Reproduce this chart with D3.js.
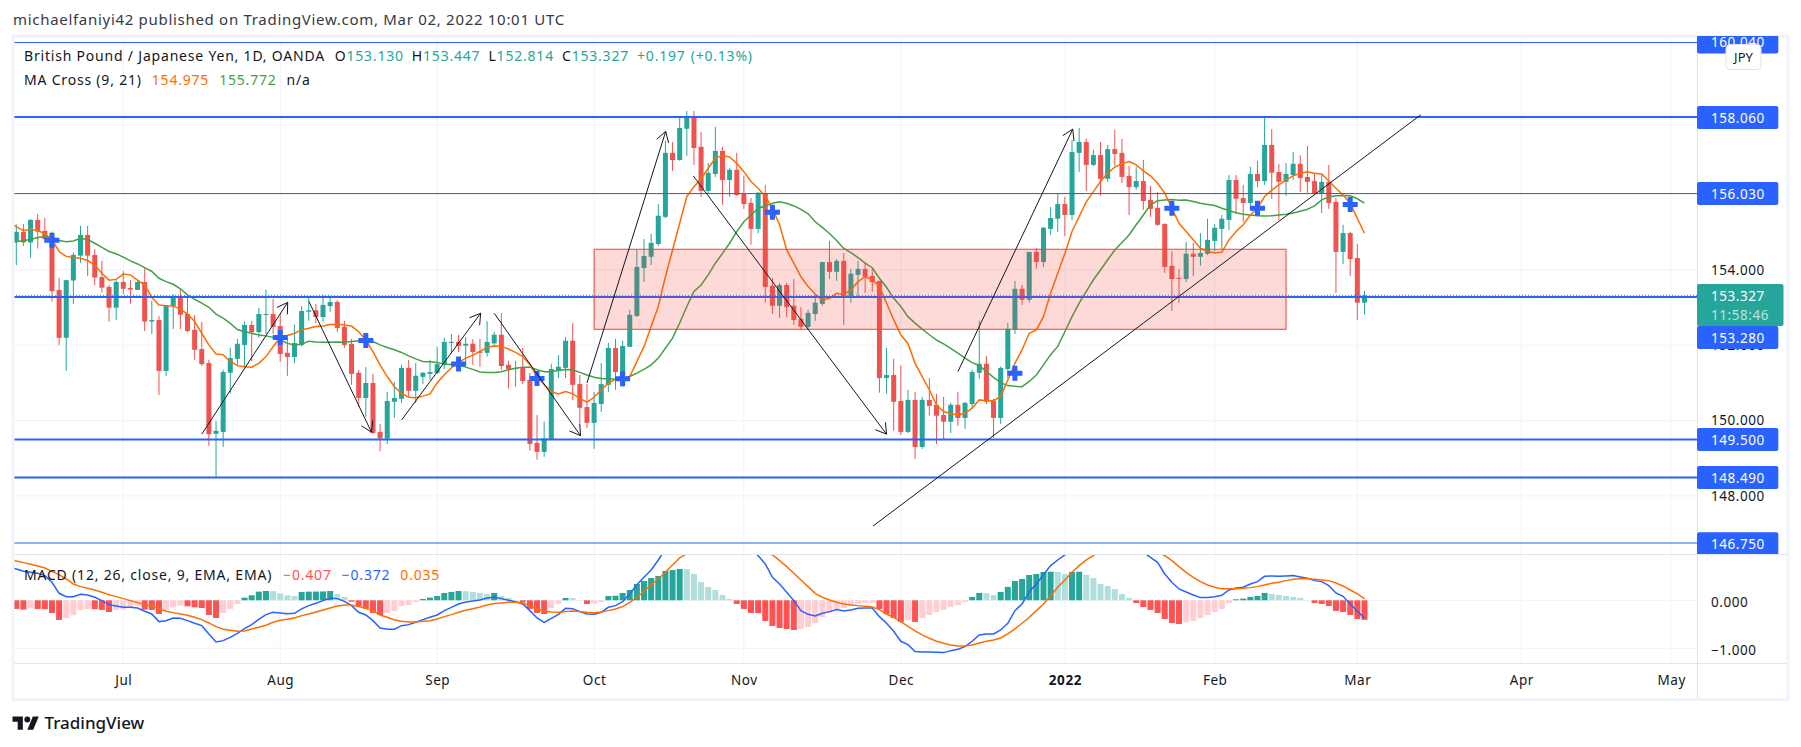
<!DOCTYPE html>
<html>
<head>
<meta charset="utf-8">
<script src="https://cdn.jsdelivr.net/npm/d3@7"></script>
<style>
    html, body { margin: 0; padding: 0; background: #fff; overflow: hidden; }
    text { font-family: "Noto Sans", sans-serif; fill: #131722; }
    .pane text { font-size: 13.5px; letter-spacing: 0.55px; }
</style>
</head>
<body>
<svg id="chart" width="1801" height="747"></svg>
<script>
// daily bars, 10 Jun 2021 .. 2 Mar 2022 (weekdays)
const opens = [154.75,155.01,154.73,155.33,155.04,154.86,153.47,152.20,153.72,154.38,
154.93,154.40,153.81,153.55,153.00,153.68,153.52,153.47,153.68,152.63,
152.67,151.32,153.04,153.27,152.83,152.41,151.90,151.53,149.65,149.70,
151.27,151.64,152.01,152.54,152.35,152.81,152.83,152.51,151.80,151.69,
152.01,152.89,152.93,152.75,153.04,153.15,152.49,152.04,151.27,150.60,
151.00,149.70,149.52,150.50,150.58,151.40,150.79,151.16,151.24,151.27,
151.48,152.06,152.09,151.99,152.04,151.84,151.80,152.05,152.28,151.48,
151.37,151.40,151.08,149.41,149.17,149.51,151.32,151.40,152.12,150.97,
150.36,149.94,150.44,150.95,151.93,151.21,151.96,152.78,154.05,154.35,
154.69,155.41,157.11,156.92,157.75,158.06,157.27,156.10,156.55,157.16,
156.39,156.66,156.04,155.78,155.09,156.04,153.58,153.05,153.60,153.05,
152.70,152.49,152.83,153.10,154.21,153.95,154.24,153.28,153.87,154.03,
153.84,153.71,151.13,151.21,150.52,149.70,150.55,149.30,150.55,150.42,
150.15,149.97,150.42,150.07,150.44,151.27,151.51,150.52,150.07,151.37,
152.41,153.50,153.21,154.48,154.21,155.09,155.36,155.75,155.46,157.11,
157.40,156.79,157.05,156.42,157.21,157.11,156.50,156.20,156.36,155.86,
155.65,155.22,154.11,153.79,153.76,154.43,154.35,154.43,154.77,155.09,
155.33,156.39,155.91,155.78,156.55,156.36,157.32,156.60,156.34,156.52,
156.82,156.47,156.36,156.02,156.34,155.81,154.48,154.98,154.32,153.13];

const highs = [155.21,155.22,155.35,155.49,155.38,155.02,153.79,153.73,154.47,155.17,
155.17,154.55,154.24,153.60,153.73,153.97,153.73,153.73,154.07,153.18,
152.78,153.07,153.36,153.49,153.31,152.80,152.62,151.61,149.99,151.35,
151.93,152.17,152.63,152.65,152.99,153.47,153.23,152.83,152.20,152.54,
153.04,153.29,153.10,153.34,153.31,153.20,152.65,152.17,151.35,151.42,
151.24,149.91,150.76,151.03,151.48,151.61,151.53,151.29,151.61,151.96,
152.20,152.30,152.28,152.22,152.16,152.17,152.64,152.35,152.85,151.59,
151.59,151.93,151.26,150.15,149.97,151.51,151.74,152.22,152.59,151.21,
150.97,150.76,151.53,152.06,152.17,152.12,152.94,154.53,154.82,154.96,
155.75,157.43,157.40,158.06,158.22,158.22,157.67,156.84,157.80,157.27,
156.71,157.11,156.50,155.91,156.07,156.26,153.79,153.66,153.66,153.76,
153.01,152.94,153.36,154.21,154.77,154.29,154.45,154.03,154.24,154.19,
154.05,153.71,151.93,151.64,151.46,150.82,150.76,150.63,151.13,150.71,
150.63,150.48,150.76,150.50,151.35,152.65,151.72,150.58,151.44,152.59,
153.71,153.60,154.48,154.59,155.14,155.67,156.02,155.94,157.45,157.77,
157.48,157.19,157.40,157.32,157.72,157.48,156.76,156.74,156.92,156.23,
156.07,155.24,154.50,154.03,154.74,154.72,154.98,155.36,155.22,155.46,
156.52,156.52,156.26,156.74,156.90,158.09,157.74,156.82,156.84,157.13,
157.05,157.29,156.55,156.52,156.79,155.91,155.20,155.01,154.69,153.447];

const lows = [154.13,154.64,154.32,154.57,154.73,153.16,152.01,151.32,153.10,154.19,
153.84,153.60,153.40,152.63,152.67,153.36,153.10,153.47,152.38,152.30,
150.68,151.19,152.43,152.43,152.35,151.61,151.45,149.33,148.50,149.30,
150.73,151.48,151.43,151.58,152.20,152.30,152.30,151.56,151.19,151.53,
151.97,152.65,152.58,152.62,152.89,152.35,151.93,150.95,150.36,150.10,
149.65,149.19,149.38,150.07,150.47,150.61,150.47,150.97,151.08,151.24,
151.37,151.79,151.82,151.48,151.48,151.43,151.70,151.97,151.35,150.85,
150.90,150.97,149.20,148.96,149.04,149.49,151.13,151.13,150.55,149.93,
149.81,149.25,150.23,150.76,150.82,150.90,151.96,152.75,153.68,154.13,
154.64,155.38,156.63,156.90,157.03,156.79,155.94,156.02,156.47,155.73,
155.94,155.97,155.62,154.67,154.98,153.13,152.83,152.73,152.75,152.54,
152.41,152.41,152.65,153.05,153.76,153.71,152.54,153.13,153.31,153.39,
153.42,150.74,150.71,149.73,149.62,149.67,148.98,149.25,150.13,149.38,
149.49,149.67,149.86,149.78,150.31,151.11,150.44,149.54,149.91,151.12,
152.30,153.07,153.13,154.03,154.08,154.93,155.01,154.90,155.33,156.60,
156.10,156.76,155.97,156.34,156.76,156.31,155.46,156.13,155.59,155.41,
155.17,153.92,152.91,153.13,153.68,153.84,154.11,154.40,154.50,154.53,
155.06,155.49,155.28,155.59,156.20,156.26,155.89,155.33,155.97,156.39,
156.07,156.05,156.02,155.51,155.62,153.39,154.16,153.84,152.67,152.814];

const closes = [155.01,154.73,155.33,155.02,154.82,153.44,152.20,153.73,154.40,154.93,
154.38,153.80,153.53,153.00,153.68,153.50,153.48,153.68,152.63,152.67,
151.32,153.07,153.29,152.81,152.38,151.88,151.50,149.64,149.73,151.29,
151.66,152.04,152.54,152.35,152.83,152.83,152.49,151.77,151.69,152.06,
152.91,152.93,152.75,153.07,153.15,152.46,152.01,151.24,150.60,151.00,
149.67,149.53,150.52,150.60,151.40,150.79,151.19,151.27,151.29,151.50,
152.09,152.09,151.98,152.04,151.82,151.80,152.09,152.28,151.45,151.37,
151.40,151.05,149.38,149.17,149.53,151.37,151.43,152.12,150.95,150.34,
149.94,150.47,150.97,151.93,151.29,151.98,152.81,154.08,154.37,154.72,
155.44,157.11,156.92,157.77,158.06,157.24,156.10,156.58,157.16,156.39,
156.66,155.99,155.75,155.09,156.05,153.55,153.05,153.60,153.02,152.67,
152.49,152.86,153.13,154.21,153.95,154.24,153.28,153.90,154.03,153.82,
153.68,151.13,151.21,150.50,149.70,150.55,149.30,150.55,150.39,150.13,
149.97,150.42,150.07,150.47,151.29,151.51,150.50,150.07,151.40,152.44,
153.50,153.21,154.48,154.21,155.12,155.38,155.75,155.46,157.13,157.40,
156.79,157.05,156.42,157.21,157.08,156.47,156.20,156.36,155.83,155.62,
155.20,154.08,153.76,153.76,154.43,154.35,154.45,154.80,155.12,155.36,
156.39,155.89,155.78,156.55,156.36,157.32,156.58,156.34,156.55,156.82,
156.44,156.34,156.02,156.34,155.78,154.48,154.98,154.29,153.13,153.327];

// moving averages, first value belongs to the bar before the first candle
const ma9 = [155.26,155.15,155.04,155.08,155.04,154.97,154.80,154.49,154.36,154.33,154.31,
154.25,154.13,153.91,153.73,153.75,153.89,153.87,153.73,153.60,153.27,
153.07,153.05,153.04,152.96,152.83,152.63,152.32,152.01,151.77,151.75,
151.57,151.46,151.43,151.42,151.52,151.70,151.96,152.21,152.26,152.32,
152.41,152.45,152.50,152.51,152.55,152.56,152.54,152.51,152.36,152.14,
151.83,151.48,151.17,150.90,150.72,150.62,150.61,150.65,150.71,151.00,
151.22,151.40,151.54,151.66,151.74,151.83,151.95,151.98,151.97,151.90,
151.81,151.70,151.48,151.17,150.95,150.77,150.71,150.77,150.71,150.59,
150.49,150.62,150.82,150.99,151.10,151.10,151.17,151.57,151.97,152.50,
153.03,153.82,154.53,155.24,155.95,156.21,156.43,156.70,156.97,157.04,
157.00,156.83,156.61,156.35,156.17,155.95,155.64,155.20,154.53,154.18,
153.82,153.56,153.36,153.20,153.25,153.38,153.34,153.47,153.69,153.82,
153.74,153.56,153.12,152.68,152.28,152.05,151.52,151.17,150.82,150.42,
150.24,150.18,150.15,150.20,150.33,150.55,150.53,150.53,150.64,151.08,
151.52,151.88,152.32,152.41,152.76,153.38,153.91,154.44,155.02,155.42,
155.81,156.08,156.35,156.57,156.73,156.82,156.88,156.79,156.63,156.50,
156.30,156.04,155.64,155.24,155.02,154.80,154.58,154.49,154.46,154.47,
154.80,155.02,155.20,155.46,155.64,155.95,156.12,156.26,156.39,156.50,
156.57,156.61,156.57,156.55,156.36,156.17,155.99,155.77,155.37,154.975];

const ma21 = [154.76,154.75,154.78,154.81,154.86,154.89,154.86,154.78,154.75,154.77,154.84,
154.81,154.71,154.60,154.49,154.43,154.34,154.24,154.16,154.06,153.96,
153.78,153.69,153.62,153.50,153.34,153.22,153.12,153.01,152.83,152.72,
152.58,152.42,152.36,152.32,152.27,152.25,152.21,152.14,152.05,152.01,
152.03,152.11,152.09,152.08,152.08,152.09,152.08,152.10,152.12,152.14,
152.10,152.01,151.94,151.88,151.81,151.72,151.64,151.57,151.56,151.54,
151.50,151.49,151.48,151.42,151.36,151.29,151.28,151.28,151.30,151.35,
151.39,151.42,151.42,151.35,151.30,151.30,151.33,151.36,151.35,151.28,
151.21,151.15,151.12,151.11,151.10,151.12,151.17,151.26,151.36,151.48,
151.66,151.92,152.19,152.59,153.03,153.43,153.60,153.87,154.18,154.44,
154.71,155.02,155.28,155.46,155.64,155.70,155.77,155.81,155.77,155.70,
155.61,155.49,155.28,155.13,154.97,154.78,154.57,154.46,154.33,154.18,
154.06,153.78,153.54,153.25,153.03,152.76,152.59,152.43,152.28,152.14,
152.04,151.92,151.79,151.66,151.54,151.46,151.30,151.15,151.01,150.93,
150.91,150.90,151.04,151.21,151.48,151.75,151.97,152.36,152.76,153.12,
153.43,153.74,154.00,154.27,154.53,154.73,154.93,155.20,155.46,155.73,
155.84,155.86,155.87,155.85,155.86,155.82,155.77,155.74,155.71,155.64,
155.58,155.52,155.48,155.46,155.44,155.43,155.44,155.46,155.48,155.51,
155.56,155.61,155.70,155.86,155.94,155.97,155.98,155.97,155.89,155.772];

// MACD pane, same idea: macdLine and signalLine start one bar early
const histogram = [-.18,-.194,-.16,-.18,-.185,-.264,-.41,-.368,-.313,-.20,
-.18,-.185,-.20,-.243,-.20,-.194,-.16,-.125,-.194,-.20,
-.285,-.20,-.146,-.11,-.125,-.146,-.16,-.305,-.368,-.264,
-.18,-.076,.055,.104,.18,.194,.19,.146,.104,.09,
.174,.18,.182,.185,.194,.132,.07,-.03,-.132,-.167,
-.264,-.305,-.264,-.222,-.118,-.097,-.035,.028,.056,.09,
.153,.174,.194,.19,.174,.153,.132,.153,.09,.049,
.007,-.042,-.18,-.264,-.285,-.16,-.076,.049,.045,.007,
-.076,-.072,-.035,.09,.095,.153,.215,.34,.403,.465,
.507,.611,.632,.653,.65,.549,.382,.278,.215,.111,
.028,-.076,-.18,-.264,-.268,-.43,-.535,-.576,-.597,-.618,
-.597,-.556,-.472,-.347,-.264,-.18,-.16,-.118,-.076,-.056,
-.054,-.18,-.285,-.368,-.451,-.41,-.451,-.368,-.305,-.243,
-.20,-.139,-.097,-.035,.07,.153,.15,.111,.174,.278,
.403,.444,.528,.549,.59,.595,.59,.549,.59,.595,
.528,.465,.34,.299,.236,.132,.049,-.056,-.139,-.20,
-.264,-.389,-.472,-.493,-.458,-.43,-.368,-.305,-.243,-.18,
-.056,.021,.035,.07,.09,.153,.132,.111,.09,.07,
.049,.007,-.056,-.076,-.118,-.222,-.243,-.305,-.389,-.407];

const macdLine = [.68,.653,.604,.583,.563,.514,.375,.146,.076,.076,.125,
.111,.063,-.007,-.09,-.118,-.146,-.146,-.16,-.229,-.285,
-.444,-.424,-.368,-.375,-.424,-.479,-.528,-.701,-.868,-.84,
-.771,-.688,-.59,-.507,-.396,-.299,-.25,-.264,-.278,-.271,
-.18,-.111,-.063,-.007,.049,.035,-.021,-.111,-.25,-.306,
-.424,-.576,-.604,-.604,-.528,-.507,-.458,-.403,-.354,-.306,
-.215,-.146,-.076,-.035,-.014,.007,.049,.063,.035,0,
-.028,-.076,-.215,-.368,-.458,-.375,-.292,-.167,-.174,-.236,
-.285,-.292,-.25,-.146,-.111,-.028,.132,.326,.479,.632,
.84,1.07,1.3,1.55,1.75,1.85,1.9,1.92,1.9,1.8,
1.65,1.48,1.3,1.1,.93,.757,.479,.34,.167,-.007,
-.215,-.292,-.326,-.271,-.236,-.194,-.222,-.201,-.167,-.16,
-.16,-.34,-.479,-.646,-.854,-.924,-1.069,-1.076,-1.076,-1.083,
-1.09,-1.049,-1.021,-.965,-.854,-.722,-.701,-.701,-.618,-.479,
-.215,-.076,.18,.34,.535,.722,.84,.944,1.15,1.35,
1.55,1.7,1.8,1.8,1.7,1.5,1.3,1.15,1.0,.896,
.792,.549,.375,.236,.174,.111,.056,.056,.076,.104,
.215,.257,.271,.34,.389,.5,.507,.5,.507,.514,
.486,.458,.41,.389,.306,.153,.083,-.076,-.229,-.372];

const signalLine = [.84,.819,.785,.75,.715,.674,.604,.535,.444,.34,.285,
.25,.215,.167,.118,.076,.035,-.007,-.049,-.09,-.125,
-.174,-.229,-.257,-.285,-.313,-.354,-.403,-.472,-.549,-.604,
-.625,-.646,-.639,-.597,-.563,-.521,-.458,-.417,-.396,-.368,
-.319,-.285,-.243,-.201,-.16,-.118,-.097,-.097,-.132,-.167,
-.215,-.306,-.354,-.41,-.438,-.451,-.451,-.438,-.424,-.389,
-.34,-.299,-.25,-.208,-.174,-.139,-.097,-.069,-.056,-.042,
-.042,-.056,-.111,-.181,-.229,-.243,-.25,-.236,-.222,-.236,
-.25,-.257,-.243,-.215,-.181,-.132,-.042,.063,.188,.326,
.444,.583,.736,.882,.97,1.13,1.32,1.47,1.58,1.67,
1.7,1.66,1.52,1.3,1.12,.99,.951,.826,.701,.563,
.424,.285,.146,.063,.007,-.042,-.076,-.097,-.111,-.125,
-.139,-.194,-.285,-.354,-.444,-.542,-.639,-.722,-.792,-.854,
-.896,-.931,-.951,-.951,-.931,-.889,-.854,-.826,-.785,-.701,
-.597,-.479,-.354,-.215,-.076,.097,.271,.424,.583,.722,
.84,.931,1.08,1.2,1.3,1.36,1.34,1.27,1.15,1.06,
1.0,.931,.826,.701,.583,.479,.389,.319,.271,.243,
.243,.243,.25,.264,.285,.319,.354,.375,.41,.438,
.451,.451,.438,.424,.41,.361,.299,.215,.132,.035];

// month ticks as bar numbers (weekdays only)
const monthBars = [15, 37, 59, 81, 102, 124, 147, 168, 188, 211, 232];
const monthLabels = ["Jul", "Aug", "Sep", "Oct", "Nov", "Dec", "2022", "Feb", "Mar", "Apr", "May"];

const priceTicks = [148, 150, 152, 154, 156, 158, 160];
const macdTicks = [0, -1];

// horizontal lines on the chart and how thick they were drawn
const levelPrices = [160.04, 158.06, 156.03, 153.28, 149.5, 148.49, 146.75];
const levelWeights = [1, 2, 1, 2, 2, 2, 1];

// MA cross markers
const crossBars = [5, 37, 49, 62, 73, 85, 106, 140, 162, 174, 187];
const crossPrices = [154.79, 152.21, 152.13, 151.50, 151.12, 151.11, 155.53, 151.26, 155.64, 155.64, 155.74];

// hand drawn arrows: [bar, price, bar, price]
const arrows = [
    [26, 149.64, 38.05, 153.14],
    [41.03, 153.16, 49.8, 149.69],
    [54.03, 150.02, 65.1, 152.85],
    [67, 152.85, 79.1, 149.6],
    [80, 151.0, 91.04, 157.68],
    [94.9, 156.5, 122, 149.64],
    [132, 151.3, 148.1, 157.74]
];
const trendLine = [120.1, 147.2, 196.9, 158.12];
const zone = [81, 154.55, 178, 152.425];

const upColor = "#26a69a", downColor = "#ef5350", blue = "#2962ff";
const maFastColor = "#ff6d00", maSlowColor = "#43a047";

const svg = d3.select("#chart");
const paneLeft = 13, paneRight = 1697, mainTop = 36, mainBottom = 554, macdBottom = 663;

const x = d3.scaleLinear().domain([0, 232]).range([16.3, 1671.2]);
const y = d3.scaleLinear().domain([146.75, 160.04]).range([543, 42.5]);
const yMacd = d3.scaleLinear().domain([-1, 0]).range([648.3, 600.3]);

const defs = svg.append("defs");
defs.append("clipPath").attr("id", "mainClip").append("rect")
    .attr("x", paneLeft).attr("y", mainTop).attr("width", paneRight - paneLeft).attr("height", mainBottom - mainTop);
defs.append("clipPath").attr("id", "macdClip").append("rect")
    .attr("x", paneLeft).attr("y", mainBottom).attr("width", paneRight - paneLeft).attr("height", macdBottom - mainBottom);
defs.append("clipPath").attr("id", "tagClip").append("rect")
    .attr("x", paneRight).attr("y", mainTop).attr("width", 100).attr("height", mainBottom - mainTop);

// published line
svg.append("text").attr("x", 13).attr("y", 25)
    .style("font-size", "15px").style("letter-spacing", "0.7px").style("fill", "#363a45")
    .text("michaelfaniyi42 published on TradingView.com, Mar 02, 2022 10:01 UTC");

// grid
const grid = svg.append("g").attr("stroke", "#f0f3fa").attr("stroke-width", 1);
grid.selectAll(".v").data(monthBars).enter().append("line")
    .attr("x1", d => x(d)).attr("x2", d => x(d)).attr("y1", mainTop).attr("y2", macdBottom);
grid.selectAll(".h").data(priceTicks).enter().append("line")
    .attr("x1", paneLeft).attr("x2", paneRight).attr("y1", d => y(d)).attr("y2", d => y(d));
grid.selectAll(".m").data(macdTicks).enter().append("line")
    .attr("x1", paneLeft).attr("x2", paneRight).attr("y1", d => yMacd(d)).attr("y2", d => yMacd(d));

// candles
const main = svg.append("g").attr("clip-path", "url(#mainClip)");
const bars = d3.range(closes.length);
const candleColor = i => closes[i] >= opens[i] ? upColor : downColor;

main.append("g").selectAll("line").data(bars).enter().append("line")
    .attr("x1", i => x(i)).attr("x2", i => x(i))
    .attr("y1", i => y(highs[i])).attr("y2", i => y(lows[i]))
    .attr("stroke", candleColor).attr("stroke-width", 1);

main.append("g").selectAll("rect").data(bars).enter().append("rect")
    .attr("x", i => x(i) - 2.5).attr("width", 5)
    .attr("y", i => y(Math.max(opens[i], closes[i])))
    .attr("height", i => Math.max(1, Math.abs(y(opens[i]) - y(closes[i]))))
    .attr("fill", candleColor);

// moving averages
function lineFrom(values, scale) {
    return d3.line().x((d, i) => x(i - 1)).y(d => scale(d))(values);
}
main.append("path").attr("d", lineFrom(ma21, y)).attr("fill", "none")
    .attr("stroke", maSlowColor).attr("stroke-width", 1.5);
main.append("path").attr("d", lineFrom(ma9, y)).attr("fill", "none")
    .attr("stroke", maFastColor).attr("stroke-width", 1.5);

// cross markers
main.append("g").selectAll("path").data(crossBars).enter().append("path")
    .attr("d", d3.symbol(d3.symbolCross, 125))
    .attr("transform", (d, i) => `translate(${x(d)},${y(crossPrices[i])})`)
    .attr("fill", blue);

// horizontal levels
main.append("g").selectAll("line").data(levelPrices).enter().append("line")
    .attr("x1", paneLeft).attr("x2", paneRight)
    .attr("y1", d => y(d)).attr("y2", d => y(d))
    .attr("stroke", blue).attr("stroke-width", (d, i) => levelWeights[i]);

// last price line
main.append("line").attr("x1", paneLeft).attr("x2", paneRight)
    .attr("y1", y(closes[189])).attr("y2", y(closes[189]))
    .attr("stroke", upColor).attr("stroke-dasharray", "1 2");

// pink zone
main.append("rect")
    .attr("x", x(zone[0])).attr("width", x(zone[2]) - x(zone[0]))
    .attr("y", y(zone[1])).attr("height", y(zone[3]) - y(zone[1]))
    .attr("fill", "#f44336").attr("fill-opacity", 0.2)
    .attr("stroke", "#f44336").attr("stroke-width", 1);

// trend line and arrows
main.append("line")
    .attr("x1", x(trendLine[0])).attr("y1", y(trendLine[1]))
    .attr("x2", x(trendLine[2])).attr("y2", y(trendLine[3]))
    .attr("stroke", "#131722").attr("stroke-width", 1);

arrows.forEach(a => {
    const x1 = x(a[0]), y1 = y(a[1]), x2 = x(a[2]), y2 = y(a[3]);
    const angle = Math.atan2(y2 - y1, x2 - x1);
    const wing = s => [x2 - 12 * Math.cos(angle + s), y2 - 12 * Math.sin(angle + s)];
    main.append("path")
        .attr("d", d3.line()([[x1, y1], [x2, y2]]) + d3.line()([wing(0.55), [x2, y2], wing(-0.55)]))
        .attr("fill", "none").attr("stroke", "#131722").attr("stroke-width", 1);
});

// MACD pane
const macd = svg.append("g").attr("clip-path", "url(#macdClip)");
const histColor = (d, i) => {
    const prev = histogram[i - 1];
    if (d >= 0) return prev === undefined || d > prev ? upColor : "#b2dfdb";
    return prev === undefined || d < prev ? "#ff5252" : "#ffcdd2";
};
macd.append("g").selectAll("rect").data(histogram).enter().append("rect")
    .attr("x", (d, i) => x(i) - 3).attr("width", 6)
    .attr("y", d => Math.min(yMacd(d), yMacd(0)))
    .attr("height", d => Math.abs(yMacd(d) - yMacd(0)))
    .attr("fill", histColor);
macd.append("path").attr("d", lineFrom(macdLine, yMacd)).attr("fill", "none")
    .attr("stroke", blue).attr("stroke-width", 1.5);
macd.append("path").attr("d", lineFrom(signalLine, yMacd)).attr("fill", "none")
    .attr("stroke", maFastColor).attr("stroke-width", 1.5);

// frame and pane separators
const frame = svg.append("g").attr("stroke", "#e0e3eb").attr("stroke-width", 1);
frame.append("line").attr("x1", paneLeft).attr("x2", 1788).attr("y1", mainBottom + .5).attr("y2", mainBottom + .5);
frame.append("line").attr("x1", paneLeft).attr("x2", 1788).attr("y1", macdBottom + .5).attr("y2", macdBottom + .5);
frame.append("line").attr("x1", paneRight + .5).attr("x2", paneRight + .5).attr("y1", mainTop).attr("y2", 700);
svg.append("rect").attr("x", 13).attr("y", 36.5).attr("width", 1775).attr("height", 663)
    .attr("fill", "none").attr("stroke", "#f0f3fa").attr("stroke-width", 3);

// axes
const yAxis = svg.append("g").attr("class", "pane")
    .attr("transform", `translate(${paneRight},0)`)
    .call(d3.axisRight(y).tickValues(priceTicks.slice(0, 4)).tickFormat(d3.format(".3f")).tickSize(0).tickPadding(14));
const macdAxis = svg.append("g").attr("class", "pane")
    .attr("transform", `translate(${paneRight},1.5)`)
    .call(d3.axisRight(yMacd).tickValues(macdTicks).tickFormat(d3.format(".3f")).tickSize(0).tickPadding(14));
const timeAxis = svg.append("g").attr("class", "pane")
    .attr("transform", `translate(0,${macdBottom})`)
    .call(d3.axisBottom(x).tickValues(monthBars).tickFormat((d, i) => monthLabels[i]).tickSize(0).tickPadding(12));
[yAxis, macdAxis, timeAxis].forEach(a => {
    a.select(".domain").remove();
    a.attr("font-family", null).attr("font-size", null);
    a.selectAll("text").style("fill", "#131722");
});
timeAxis.selectAll("text").filter(d => d === 147).style("font-weight", "700");

// price tags on the right
const tags = svg.append("g").attr("clip-path", "url(#tagClip)");
const tagTops = [30.5, 106, 182, 326, 428, 466, 532.3];
levelPrices.forEach((p, i) => {
    tags.append("rect").attr("x", paneRight).attr("y", tagTops[i]).attr("width", 81.3).attr("height", 23).attr("rx", 2).attr("fill", blue);
    tags.append("text").attr("class", "tag").attr("x", paneRight + 14).attr("y", tagTops[i] + 16.5)
        .style("font-size", "13.5px").style("letter-spacing", "0.55px").style("fill", "#fff")
        .text(d3.format(".3f")(p));
});
tags.append("rect").attr("x", paneRight).attr("y", 284).attr("width", 86.5).attr("height", 42).attr("rx", 2).attr("fill", upColor);
tags.append("text").attr("x", paneRight + 14).attr("y", 301)
    .style("font-size", "13.5px").style("letter-spacing", "0.55px").style("fill", "#fff").text("153.327");
tags.append("text").attr("x", paneRight + 14).attr("y", 320)
    .style("font-size", "13.5px").style("letter-spacing", "0.55px").style("fill", "#fff").style("fill-opacity", 0.7).text("11:58:46");

// currency button
svg.append("rect").attr("x", 1726).attr("y", 44.5).attr("width", 35).attr("height", 25).attr("rx", 4)
    .attr("fill", "#fff").attr("stroke", "#e0e3eb");
svg.append("text").attr("x", 1743.5).attr("y", 61.5).attr("text-anchor", "middle")
    .style("font-size", "13px").style("fill", "#131722").text("JPY");

// legends, value text flows after its label
function legend(yPos, parts) {
    const t = svg.append("text").attr("x", 24).attr("y", yPos)
        .style("font-size", "14px").style("letter-spacing", "0.8px");
    parts.forEach(p => {
        t.append("tspan").attr("dx", p[2] || 0).style("fill", p[1]).text(p[0]);
    });
}
const ink = "#131722";
legend(61, [["British Pound / Japanese Yen, 1D, OANDA", ink], ["O", ink, 10], ["153.130", upColor],
    ["H", ink, 8], ["153.447", upColor], ["L", ink, 8], ["152.814", upColor], ["C", ink, 8], ["153.327", upColor],
    ["+0.197", upColor, 8], ["(+0.13%)", upColor, 5]]);
legend(85, [["MA Cross (9, 21)", ink], ["154.975", maFastColor, 10], ["155.772", maSlowColor, 10], ["n/a", ink, 10]]);
legend(580, [["MACD (12, 26, close, 9, EMA, EMA)", ink], ["\u22120.407", "#ff5252", 11], ["\u22120.372", blue, 10], ["0.035", maFastColor, 10]]);

// logo
const logo = svg.append("g").attr("transform", "translate(12.5,713.5) scale(0.74)").attr("fill", "#131722");
logo.append("path").attr("d", "M14 22H7V11H0V4h14v18zM28 22h-8l7.5-18h8L28 22z");
logo.append("circle").attr("cx", 20).attr("cy", 8).attr("r", 4);
svg.append("text").attr("x", 44.5).attr("y", 729)
    .style("font-size", "17px").style("font-weight", "500").style("fill", "#131722").text("TradingView");
</script>
</body>
</html>
